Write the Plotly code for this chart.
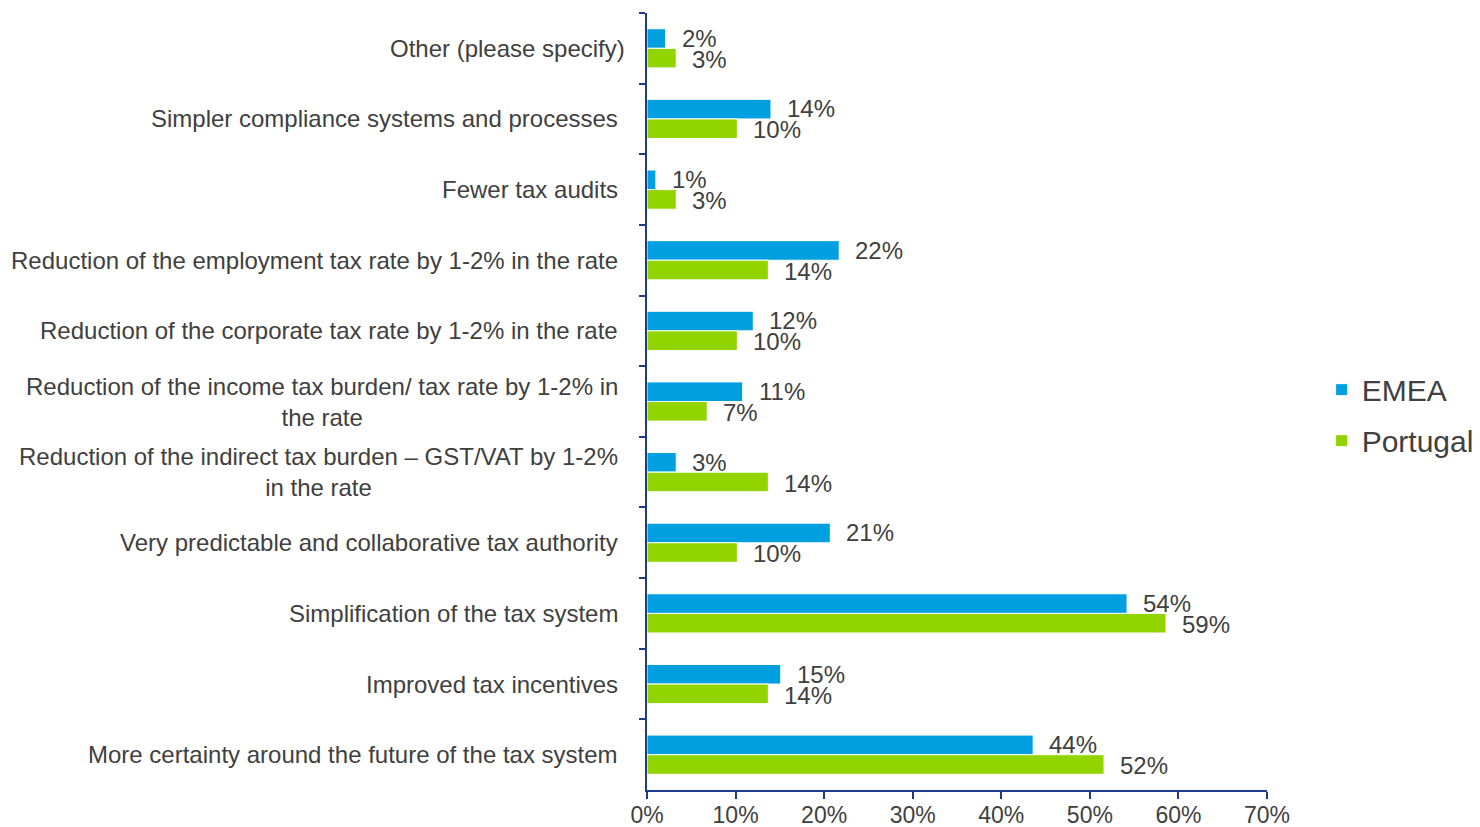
import plotly.graph_objects as go

# Survey answers, listed top to bottom as shown on the chart
categories = [
    "Other (please specify)",
    "Simpler compliance systems and processes",
    "Fewer tax audits",
    "Reduction of the employment tax rate by 1-2% in the rate",
    "Reduction of the corporate tax rate by 1-2% in the rate",
    "Reduction of the income tax burden/ tax rate by 1-2% in<br>the rate",
    "Reduction of the indirect tax burden – GST/VAT by 1-2%<br>in the rate",
    "Very predictable and collaborative tax authority",
    "Simplification of the tax system",
    "Improved tax incentives",
    "More certainty around the future of the tax system",
]

emea = [2.1, 14.0, 1.0, 21.7, 12.0, 10.8, 3.3, 20.7, 54.2, 15.1, 43.6]
portugal = [3.3, 10.2, 3.3, 13.7, 10.2, 6.8, 13.7, 10.2, 58.6, 13.7, 51.6]

x_ticks = [0, 10, 20, 30, 40, 50, 60, 70]

BLUE = "#009FDF"
GREEN = "#92D400"
NAVY = "#1F3A8A"
TEXT = "#404040"
FONT = "Liberation Sans, Arial, sans-serif"

fig = go.Figure()
fig.add_trace(go.Bar(
    y=categories, x=emea, name="EMEA", orientation="h",
    marker=dict(color=BLUE, line=dict(color="white", width=1)),
    legendgroup="a",
))
fig.add_trace(go.Bar(
    y=categories, x=portugal, name="Portugal", orientation="h",
    marker=dict(color=GREEN, line=dict(color="white", width=1)),
    legendgroup="b",
))

annotations = []
# Category labels, right-aligned to the axis with wrapped lines centred
for cat in categories:
    shift = -20 if cat.startswith("Other") else -27
    annotations.append(dict(
        x=0, xref="paper", y=cat, yref="y", text=cat,
        xanchor="right", yanchor="middle", align="center",
        xshift=shift, showarrow=False,
        font=dict(family=FONT, size=24, color=TEXT),
    ))

# Value labels beside each bar
for cat, ve, vp in zip(categories, emea, portugal):
    for v, dy in ((ve, 10), (vp, -11)):
        annotations.append(dict(
            x=v, xref="x", y=cat, yref="y", text=f"{v:.0f}%",
            xanchor="left", yanchor="middle", xshift=14, yshift=dy,
            showarrow=False,
            font=dict(family=FONT, size=24, color=TEXT),
        ))

fig.update_layout(
    width=1480, height=827,
    margin=dict(l=647, r=213, t=13, b=37),
    paper_bgcolor="white", plot_bgcolor="white",
    barmode="group", bargap=0.445, bargroupgap=0,
    font=dict(family=FONT, size=24, color=TEXT),
    annotations=annotations,
    legend=dict(
        xref="container", yref="container", x=0.893, y=0.498,
        xanchor="left", yanchor="middle",
        font=dict(family=FONT, size=30, color=TEXT),
        tracegroupgap=9, bgcolor="rgba(0,0,0,0)",
    ),
    showlegend=True,
)

fig.update_xaxes(
    range=[0, 70], tickvals=x_ticks, ticktext=[f"{t}%" for t in x_ticks],
    showgrid=False, zeroline=False, automargin=False,
    showline=True, linecolor=NAVY, linewidth=2,
    ticks="outside", ticklen=7, tickwidth=2, tickcolor=NAVY,
    ticklabelstandoff=-4,
    tickfont=dict(family=FONT, size=23, color=TEXT),
)
fig.update_yaxes(
    type="category", autorange="reversed", automargin=False,
    showticklabels=False, showgrid=False, zeroline=False,
    showline=True, linecolor=NAVY, linewidth=2,
    ticks="outside", tickson="boundaries", ticklen=6, tickwidth=2, tickcolor=NAVY,
)

fig.write_html("out.html")
